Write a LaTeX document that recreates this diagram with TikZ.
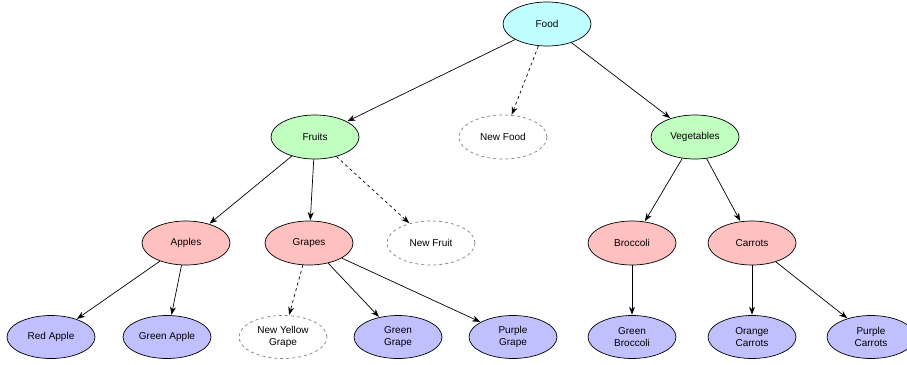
\documentclass[tikz,border=0pt]{standalone}
\usepackage{fontspec}
\setmainfont{Liberation Sans}
\usetikzlibrary{shapes.geometric,arrows.meta}
\definecolor{cfood}{HTML}{C0FFFF}
\definecolor{cgreen}{HTML}{C0FFC0}
\definecolor{cpink}{HTML}{FFC0C0}
\definecolor{cblue}{HTML}{C0C0FF}
\tikzset{
  el/.style={ellipse, draw=black, line width=0.7pt, minimum width=88pt, minimum height=44pt, inner sep=0pt, align=center, font=\fontsize{10}{11.5}\selectfont},
  foodn/.style={el, fill=cfood},
  greenn/.style={el, fill=cgreen},
  pinkn/.style={el, fill=cpink},
  bluen/.style={el, fill=cblue, minimum height=43pt},
  newn/.style={el, draw=gray, dashed, fill=white},
  edge/.style={-{Stealth[length=8pt,width=6pt]}, line width=0.7pt, shorten >=0.5pt},
  dedge/.style={edge, dashed}
}
\begin{document}
\begin{tikzpicture}[x=1pt,y=-1pt]
\useasboundingbox (0,0) rectangle (907,364);
\node[foodn] (food) at (547,24) {Food};
\node[greenn] (fruits) at (315,137) {Fruits};
\node[newn] (newfood) at (503,137) {New Food};
\node[greenn] (veg) at (695,137) {Vegetables};
\node[pinkn] (apples) at (186,243) {Apples};
\node[pinkn] (grapes) at (309,243) {Grapes};
\node[newn] (newfruit) at (431,243) {New Fruit};
\node[pinkn] (broccoli) at (632,243) {Broccoli};
\node[pinkn] (carrots) at (752,243) {Carrots};
\node[bluen] (redapple) at (51,337) {Red Apple};
\node[bluen] (greenapple) at (167,337) {Green Apple};
\node[newn, minimum height=43pt] (newyellow) at (283,337) {New Yellow\\Grape};
\node[bluen] (greengrape) at (398,337) {Green\\Grape};
\node[bluen] (purplegrape) at (513,337) {Purple\\Grape};
\node[bluen] (greenbroccoli) at (632,337) {Green\\Broccoli};
\node[bluen] (orangecarrots) at (752,337) {Orange\\Carrots};
\node[bluen] (purplecarrots) at (871,337) {Purple\\Carrots};
\draw[edge] (food) -- (fruits);
\draw[dedge] (food) -- (newfood);
\draw[edge] (food) -- (veg);
\draw[edge] (fruits) -- (apples);
\draw[edge] (fruits) -- (grapes);
\draw[dedge] (fruits) -- (newfruit);
\draw[edge] (veg) -- (broccoli);
\draw[edge] (veg) -- (carrots);
\draw[edge] (apples) -- (redapple);
\draw[edge] (apples) -- (greenapple);
\draw[dedge] (grapes) -- (newyellow);
\draw[edge] (grapes) -- (greengrape);
\draw[edge] (grapes) -- (purplegrape);
\draw[edge] (broccoli) -- (greenbroccoli);
\draw[edge] (carrots) -- (orangecarrots);
\draw[edge] (carrots) -- (purplecarrots);
\end{tikzpicture}
\end{document}
